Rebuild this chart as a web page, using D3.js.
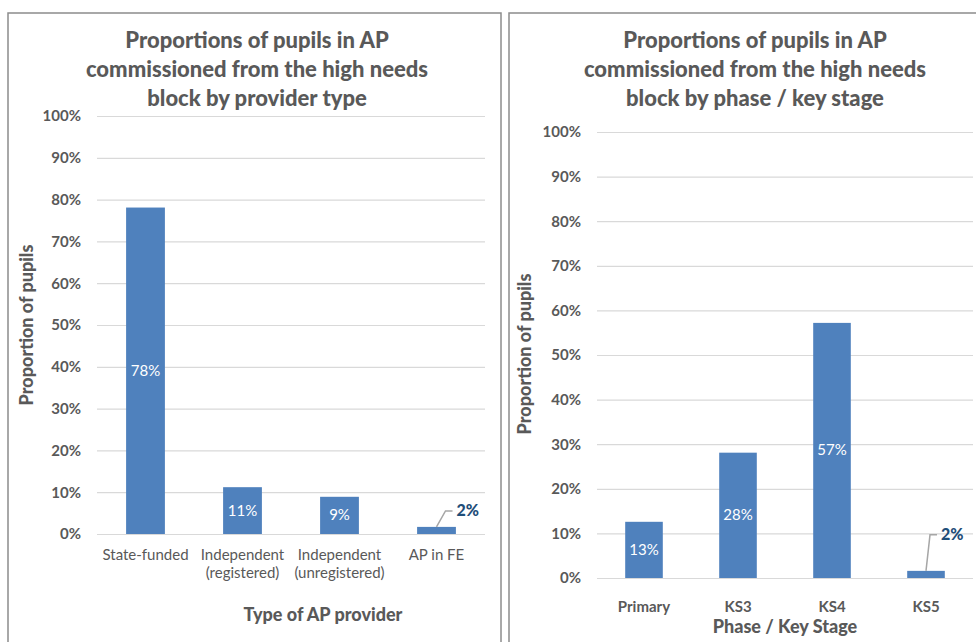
<!DOCTYPE html>
<html>
<head>
<meta charset="utf-8">
<script src="https://cdn.jsdelivr.net/npm/d3@7"></script>
<style>
  body { margin: 0; background: #fff; }
  svg { display: block; font-family: Lato, "Open Sans", sans-serif; }
</style>
</head>
<body>
<svg id="chart" width="976" height="642"></svg>
<script>
// data
var providerTypes = [["State-funded"], ["Independent", "(registered)"], ["Independent", "(unregistered)"], ["AP in FE"]];
var providerShares = [0.781, 0.112, 0.089, 0.017];

var keyStages = [["Primary"], ["KS3"], ["KS4"], ["KS5"]];
var keyStageShares = [0.126, 0.281, 0.572, 0.016];

var leftTitle = ["Proportions of pupils in AP", "commissioned from the high needs", "block by provider type"];
var rightTitle = ["Proportions of pupils in AP", "commissioned from the high needs", "block by phase / key stage"];

var yTitle = "Proportion of pupils";

var svg = d3.select("#chart");
var fmt = d3.format(".0%");

function drawChart(opt) {
	// panel border
	svg.append("rect")
		.attr("x", opt.panel[0]).attr("y", opt.panel[1])
		.attr("width", opt.panel[2]).attr("height", 700)
		.attr("fill", "none").attr("stroke", "#8c8c8c").attr("stroke-width", 1.5);

	// title
	var t = svg.append("text")
		.attr("text-anchor", "middle")
		.attr("fill", "#595959")
		.style("font-size", "22px").style("font-weight", "900");
	opt.title.forEach(function(line, i) {
		t.append("tspan").attr("x", opt.titleX).attr("y", 48 + i * 29).text(line);
	});

	var x = d3.scaleBand()
		.domain(d3.range(opt.cats.length))
		.range([opt.left, opt.right])
		.paddingInner(0.6).paddingOuter(0.3);

	var y = d3.scaleLinear().domain([0, 1]).range([opt.bottom, opt.top]);

	// gridlines + tick labels
	var g = svg.append("g").attr("transform", "translate(" + opt.left + ",0)");
	g.call(d3.axisLeft(y).tickValues(d3.range(0, 11).map(function(d) { return d / 10; }))
		.tickFormat(fmt).tickSize(-(opt.right - opt.left)).tickPadding(16));
	g.select(".domain").remove();
	g.selectAll(".tick line").attr("stroke", "#d9d9d9").attr("stroke-width", 1.2);
	g.selectAll(".tick text").attr("fill", "#595959")
		.style("font-size", "15px").style("font-family", "Lato, sans-serif").style("font-weight", "bold");

	// bars
	svg.selectAll(null)
		.data(opt.values)
		.enter().append("rect")
		.attr("x", function(d, i) { return x(i); })
		.attr("y", function(d) { return y(d); })
		.attr("width", x.bandwidth())
		.attr("height", function(d) { return y(0) - y(d); })
		.attr("fill", "#4f81bd");

	// data labels
	opt.values.forEach(function(d, i) {
		var cx = x(i) + x.bandwidth() / 2;
		if (d > 0.05) {
			svg.append("text")
				.attr("x", cx).attr("y", (y(d) + y(0)) / 2 + 5)
				.attr("text-anchor", "middle").attr("fill", "#fff")
				.style("font-size", "15px")
				.text(fmt(d));
		} else {
			var lx = cx + opt.leader[0], ly = y(d) + opt.leader[1];
			svg.append("path")
				.attr("d", "M" + cx + "," + y(d) + "L" + lx + "," + ly + "H" + (lx + 7))
				.attr("fill", "none").attr("stroke", "#a6a6a6").attr("stroke-width", 1.5);
			svg.append("text")
				.attr("x", lx + 11).attr("y", ly + 5)
				.attr("fill", "#1f4e79")
				.style("font-size", "16px").style("font-weight", "900")
				.text(fmt(d));
		}
	});

	// category labels
	opt.cats.forEach(function(lines, i) {
		var ct = svg.append("text")
			.attr("text-anchor", "middle").attr("fill", "#595959")
			.style("font-size", "15px").style("font-weight", opt.catWeight);
		lines.forEach(function(line, j) {
			ct.append("tspan")
				.attr("x", x(i) + x.bandwidth() / 2)
				.attr("y", opt.catY + j * 18)
				.text(line);
		});
	});

	// axis titles
	svg.append("text")
		.attr("x", opt.xTitle[0]).attr("y", opt.xTitle[1])
		.attr("text-anchor", "middle").attr("fill", "#595959")
		.style("font-size", "18px").style("font-weight", "900")
		.text(opt.xLabel);

	svg.append("text")
		.attr("transform", "translate(" + opt.yTitle[0] + "," + opt.yTitle[1] + ") rotate(-90)")
		.attr("text-anchor", "middle").attr("fill", "#595959")
		.style("font-size", "18px").style("font-weight", "900")
		.text(yTitle);
}

drawChart({
	panel: [8, 13, 493],
	title: leftTitle, titleX: 257,
	cats: providerTypes, values: providerShares,
	left: 97, right: 485, top: 116, bottom: 534,
	catY: 560, catWeight: "normal",
	leader: [9, -16],
	xLabel: "Type of AP provider", xTitle: [323, 621],
	yTitle: [33, 325]
});

drawChart({
	panel: [509, 13, 500],
	title: rightTitle, titleX: 755,
	cats: keyStages, values: keyStageShares,
	left: 597, right: 973, top: 132, bottom: 578,
	catY: 612, catWeight: "bold",
	leader: [4, -36],
	xLabel: "Phase / Key Stage", xTitle: [785, 633],
	yTitle: [531, 354]
});
</script>
</body>
</html>
